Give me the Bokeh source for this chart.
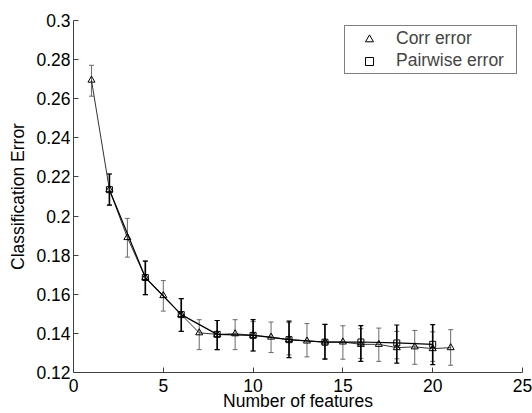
from bokeh.plotting import figure
from bokeh.models import ColumnDataSource, Whisker, TeeHead, FixedTicker, Range1d, Legend, LegendItem
from bokeh.embed import file_html
from bokeh.resources import INLINE

# Corr error (triangles)
corr_x = [1, 2, 3, 4, 5, 6, 7, 8, 9, 10, 11, 12, 13, 14, 15, 16, 17, 18, 19, 20, 21]
corr_y = [0.2695, 0.2135, 0.189, 0.1686, 0.1593, 0.1496, 0.1403, 0.1395, 0.1398, 0.139, 0.1381,
          0.1368, 0.1361, 0.1356, 0.1356, 0.1344, 0.1344, 0.1327, 0.1331, 0.1322, 0.1327]
corr_up = [0.2771, 0.2215, 0.1988, 0.177, 0.167, 0.1578, 0.147, 0.1466, 0.147, 0.146, 0.1458,
           0.1455, 0.145, 0.1446, 0.1439, 0.1424, 0.1427, 0.141, 0.1415, 0.1408, 0.1419]
corr_lo = [0.2613, 0.2056, 0.179, 0.1598, 0.1514, 0.141, 0.1317, 0.1317, 0.1317, 0.131, 0.1302,
           0.129, 0.128, 0.127, 0.1268, 0.1272, 0.1257, 0.127, 0.1242, 0.1257, 0.1237]

# Pairwise error (squares)
pair_x = [2, 4, 6, 8, 10, 12, 14, 16, 18, 20]
pair_y = [0.2135, 0.1686, 0.1496, 0.1395, 0.139, 0.1368, 0.1355, 0.1356, 0.1351, 0.1344]
pair_up = [0.2215, 0.177, 0.1578, 0.1466, 0.147, 0.1463, 0.1446, 0.144, 0.1443, 0.1445]
pair_lo = [0.2056, 0.1598, 0.141, 0.1317, 0.131, 0.1276, 0.1268, 0.1257, 0.1248, 0.124]

x_ticks = [0, 5, 10, 15, 20, 25]
y_ticks = [0.12, 0.14, 0.16, 0.18, 0.2, 0.22, 0.24, 0.26, 0.28, 0.3]
y_tick_labels = ["0.12", "0.14", "0.16", "0.18", "0.2", "0.22", "0.24", "0.26", "0.28", "0.3"]

FONT = "Liberation Sans"
FS = "17.5px"

p = figure(width=532, height=413, output_backend="svg", toolbar_location=None,
           x_range=Range1d(0, 25), y_range=Range1d(0.12, 0.3),
           min_border_left=73, min_border_right=10, min_border_top=20, min_border_bottom=39)
p.outline_line_color = None
p.xgrid.visible = False
p.ygrid.visible = False
p.background_fill_color = "white"

src_c = ColumnDataSource(dict(x=corr_x, y=corr_y, up=corr_up, lo=corr_lo))
src_p = ColumnDataSource(dict(x=pair_x, y=pair_y, up=pair_up, lo=pair_lo))

# corr series
wc = Whisker(base="x", upper="up", lower="lo", source=src_c, line_color="#6a6a6a", line_width=1,
             upper_head=TeeHead(size=5, line_color="#6a6a6a", line_width=1),
             lower_head=TeeHead(size=5, line_color="#6a6a6a", line_width=1))
p.add_layout(wc)
p.line("x", "y", source=src_c, line_color="#333333", line_width=1)
rc = p.scatter("x", "y", source=src_c, marker="triangle", size=7, fill_color=None,
               line_color="black", line_width=1)

# pairwise series
wp = Whisker(base="x", upper="up", lower="lo", source=src_p, line_color="black", line_width=1.6,
             upper_head=TeeHead(size=5, line_color="black", line_width=1.2),
             lower_head=TeeHead(size=5, line_color="black", line_width=1.2))
p.add_layout(wp)
p.line("x", "y", source=src_p, line_color="black", line_width=1.2)
rp = p.scatter("x", "y", source=src_p, marker="square", size=6, fill_color=None,
               line_color="black", line_width=1)

# axes
for ax in (p.xaxis[0], p.yaxis[0]):
    ax.axis_line_color = "#404040"
    ax.major_tick_line_color = "#404040"
    ax.major_tick_in = 5
    ax.major_tick_out = 0
    ax.minor_tick_line_color = None
    ax.major_label_text_font = FONT
    ax.major_label_text_font_size = FS
    ax.major_label_text_color = "black"
    ax.axis_label_text_font = FONT
    ax.axis_label_text_font_size = FS
    ax.axis_label_text_font_style = "normal"
    ax.axis_label_text_color = "black"

p.xaxis.ticker = FixedTicker(ticks=x_ticks)
p.yaxis.ticker = FixedTicker(ticks=y_ticks)
p.yaxis.major_label_overrides = {t: l for t, l in zip(y_ticks, y_tick_labels)}
p.xaxis.axis_label = "Number of features"
p.yaxis.axis_label = "Classification Error"
p.xaxis.major_label_standoff = 6
p.xaxis.axis_label_standoff = -4
p.yaxis.major_label_standoff = 3
p.yaxis.axis_label_standoff = 5

legend = Legend(items=[LegendItem(label="Corr error", renderers=[rc]),
                       LegendItem(label="Pairwise error", renderers=[rp])],
                location="top_right")
legend.margin = 5
legend.padding = 2
legend.spacing = 1
legend.glyph_width = 44
legend.glyph_height = 20
legend.label_height = 20
legend.label_width = 118
legend.label_standoff = 5
legend.label_text_font = FONT
legend.label_text_font_size = FS
legend.border_line_color = "black"
legend.border_line_width = 1
legend.background_fill_alpha = 1
p.add_layout(legend)

open("out.html", "w").write(file_html(p, INLINE))
